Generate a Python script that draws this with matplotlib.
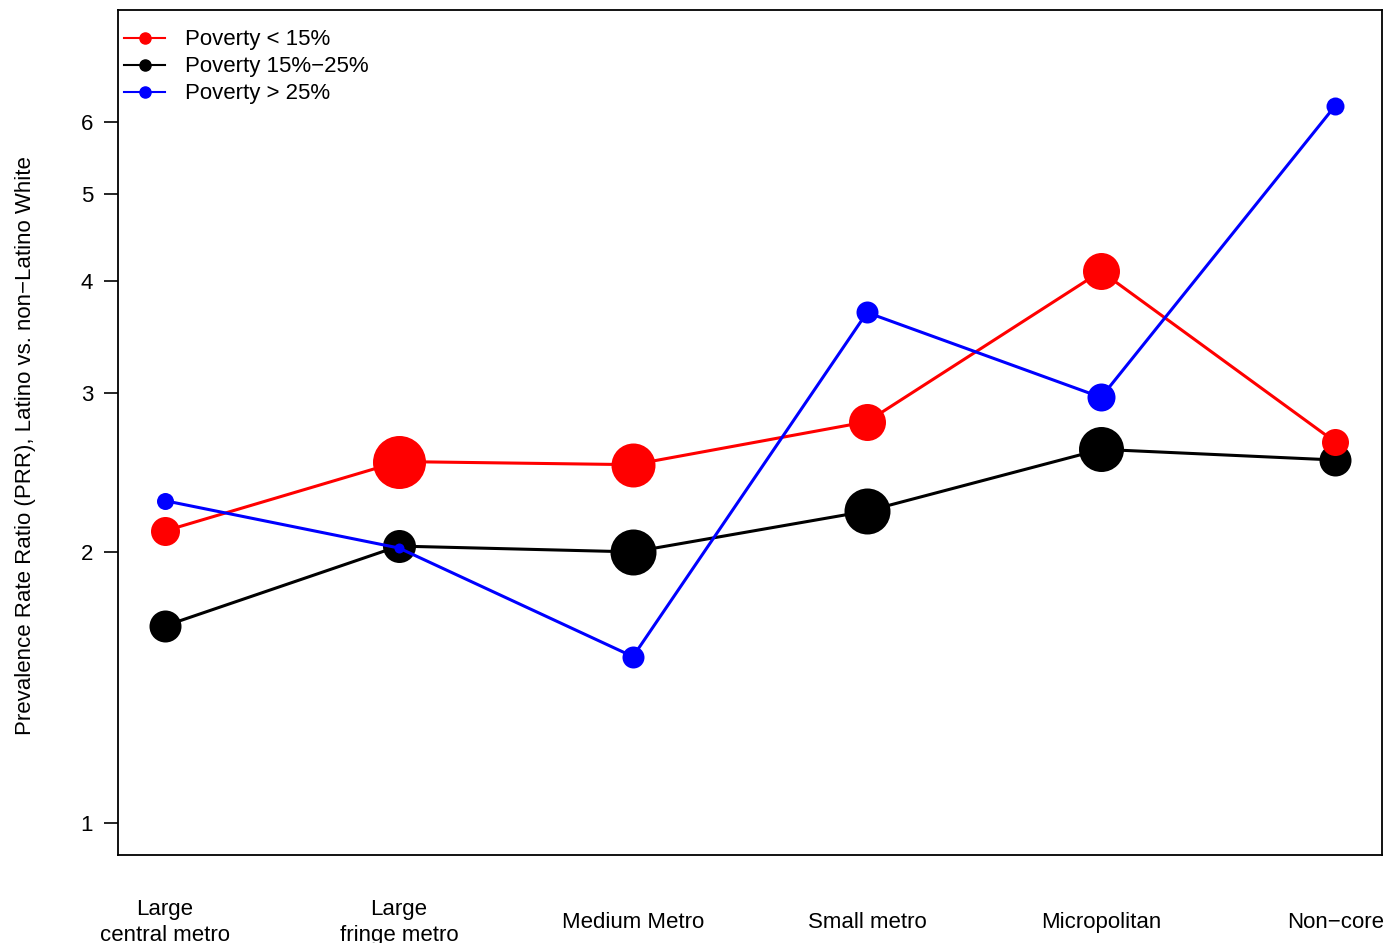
import matplotlib
matplotlib.use("Agg")
import matplotlib.pyplot as plt

plt.rcParams['font.family'] = ['Liberation Sans', 'DejaVu Sans']

# urbanization categories along the x axis
categories = ["Large\ncentral metro", "Large\nfringe metro", "Medium Metro",
              "Small metro", "Micropolitan", "Non\u2212core"]

# prevalence rate ratios per poverty group
prr_low = [2.11, 2.52, 2.50, 2.79, 4.10, 2.65]
prr_mid = [1.655, 2.03, 2.00, 2.22, 2.60, 2.53]
prr_high = [2.28, 2.02, 1.53, 3.69, 2.97, 6.26]

# point diameters (pixels)
size_low = [29, 53, 44, 37, 37, 27]
size_mid = [32, 33, 46, 46, 45, 32]
size_high = [17, 10, 22, 22, 28, 18]

labels = ["Poverty < 15%", "Poverty 15%\u221225%", "Poverty > 25%"]
yticks = [1, 2, 3, 4, 5, 6]

fig = plt.figure(figsize=(14, 9.43), dpi=100)
ax = fig.add_axes([0.0843, 0.0933, 0.9028, 0.8961])

x = list(range(1, len(categories) + 1))
px2pt = 72 / 100

series = [(prr_mid, size_mid, "black", 2), (prr_low, size_low, "red", 3),
          (prr_high, size_high, "blue", 4)]
for vals, sizes, col, z in series:
    ax.plot(x, vals, color=col, lw=2.2, zorder=z)
    for xi, v, s in zip(x, vals, sizes):
        ax.plot(xi, v, 'o', color=col, markersize=s * px2pt, zorder=z + 0.5,
                markeredgewidth=0)

# legend handles
handles = []
for col, lab in zip(["red", "black", "blue"], labels):
    h, = ax.plot([], [], '-o', color=col, lw=1.5, markersize=8, label=lab)
    handles.append(h)
ax.legend(handles=handles, loc="upper left", frameon=False, fontsize=16,
          handlelength=1.85, handletextpad=0.9, labelspacing=0.27,
          borderaxespad=0.0, borderpad=0.0, bbox_to_anchor=(0.005, 0.977))

ax.set_yscale("log")
ax.set_ylim(0.921, 8.0)
ax.set_xlim(0.8, 6.2)
ax.set_yticks(yticks)
ax.set_yticklabels([str(t) for t in yticks])
ax.minorticks_off()
ax.tick_params(axis='y', length=10, width=1.2, pad=8, labelsize=16)

ax.set_xticks(x)
ax.set_xticklabels(categories, fontsize=16, va='center', linespacing=1.3)
ax.tick_params(axis='x', length=0, pad=48.5)

for sp in ax.spines.values():
    sp.set_linewidth(1.3)

ax.set_ylabel("Prevalence Rate Ratio (PRR), Latino vs. non\u2212Latino White",
              fontsize=16)
ax.yaxis.set_label_coords(-0.065, 0.484)

fig.savefig("out.png", dpi=100)
